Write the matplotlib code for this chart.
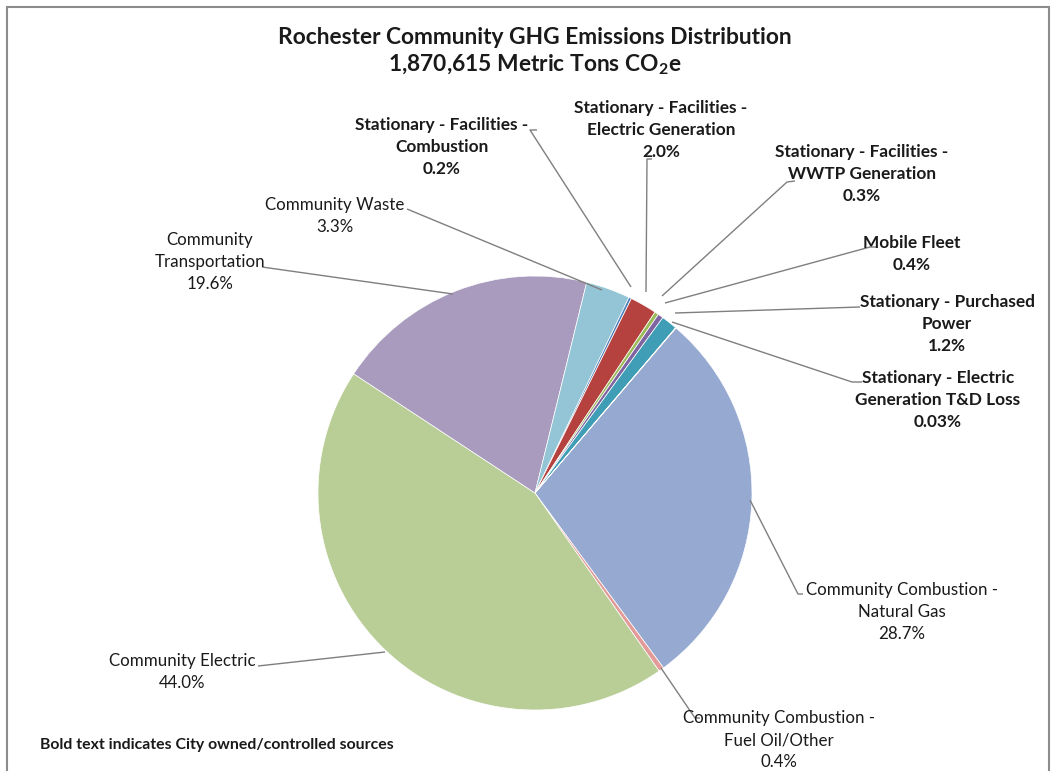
import matplotlib
matplotlib.use("Agg")
import matplotlib.pyplot as plt
from matplotlib.patches import Rectangle

plt.rcParams['font.family'] = ['Lato', 'DejaVu Sans']
plt.rcParams['mathtext.fontset'] = 'custom'
plt.rcParams['mathtext.rm'] = 'Lato'
plt.rcParams['mathtext.bf'] = 'Lato:bold'

# ---- data ----
categories = ["Community Combustion -\nNatural Gas",
              "Community Combustion -\nFuel Oil/Other",
              "Community Electric",
              "Community\nTransportation",
              "Community Waste",
              "Stationary - Facilities -\nCombustion",
              "Stationary - Facilities -\nElectric Generation",
              "Stationary - Facilities -\nWWTP Generation",
              "Mobile Fleet",
              "Stationary - Purchased\nPower",
              "Stationary - Electric\nGeneration T&D Loss"]
shares = [28.7, 0.4, 44.0, 19.6, 3.3, 0.2, 2.0, 0.3, 0.4, 1.2, 0.03]
pct_labels = ["28.7%", "0.4%", "44.0%", "19.6%", "3.3%", "0.2%", "2.0%",
              "0.3%", "0.4%", "1.2%", "0.03%"]
city_owned = [False, False, False, False, False, True, True, True, True, True, True]

# ---- style ----
colors = ["#95A9D1", "#E39B9A", "#B9CD96", "#A99BBD", "#93C5D6",
          "#4F81BD", "#B5423F", "#9BBB59", "#8064A2", "#3F9DB5", "#F79646"]
H = 771
def Y(y):
    return H - y

label_pos = [(902, 612), (779, 740), (182, 672), (210, 262), (335, 216),
             (442, 147), (661, 130), (862, 174), (912, 254), (947, 324), (938, 400)]
leaders = [
    [(803, 594), (798, 594), (750, 500)],
    [(700, 718), (695, 718), (661, 668)],
    [(258, 666), (385, 652)],
    [(262, 267), (453, 294)],
    [(407, 209), (602, 290)],
    [(537, 130), (530, 130), (631, 287)],
    [(652, 159), (647, 159), (646, 292)],
    [(795, 181), (787, 182), (662, 296)],
    [(877, 247), (870, 247), (665, 303)],
    [(860, 307), (675, 313)],
    [(862, 382), (852, 382), (672, 322)],
]

fig = plt.figure(figsize=(10.56, 7.71), dpi=100)
ax = fig.add_axes([0, 0, 1, 1])

explode = [0.04 if c else 0.0 for c in city_owned]
ax.pie(shares, colors=colors, center=(535, Y(493)), radius=217,
       startangle=49.5, counterclock=False, explode=explode,
       wedgeprops=dict(linewidth=0.5, edgecolor='white'))

ax.set_xlim(0, 1056)
ax.set_ylim(0, H)
ax.set_aspect('equal')
ax.axis('off')

# border
ax.add_patch(Rectangle((7, Y(790)), 1042, 783, fill=False, edgecolor='#8C8C8C',
                       linewidth=1.5, clip_on=False))

# title
ax.text(535, Y(37), "Rochester Community GHG Emissions Distribution",
        ha='center', va='center', fontsize=16.4, fontweight='bold', color='#1a1a1a')
ax.text(535, Y(65), r"1,870,615 Metric Tons CO$_\mathbf{2}$e",
        ha='center', va='center', fontsize=16.4, fontweight='bold', color='#1a1a1a')

for name, pct, pos, bold, pts in zip(categories, pct_labels, label_pos, city_owned, leaders):
    xs = [p[0] for p in pts]
    ys = [Y(p[1]) for p in pts]
    ax.plot(xs, ys, color='#7F7F7F', linewidth=1.0, solid_capstyle='butt')
    ax.text(pos[0], Y(pos[1]), name + "\n" + pct, ha='center', va='center',
            multialignment='center', fontsize=12.4 if bold else 12.2, linespacing=1.45,
            fontweight='bold' if bold else 'normal', color='#1a1a1a')

ax.text(40, Y(745), "Bold text indicates City owned/controlled sources",
        ha='left', va='center', fontsize=11.4, fontweight='bold', color='#1a1a1a')

fig.savefig("out.png", dpi=100)
